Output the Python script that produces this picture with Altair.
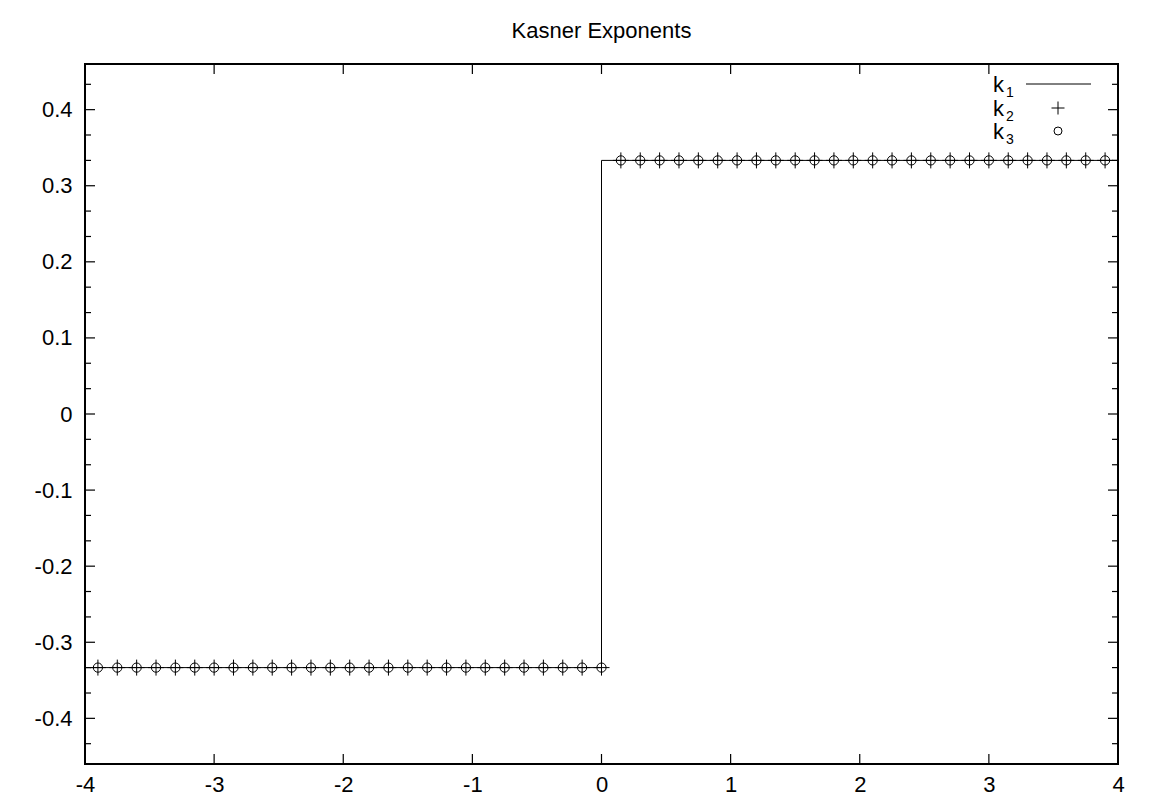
import altair as alt
import pandas as pd

# ---- data ----
x_vals = [-3.9, -3.75, -3.6, -3.45, -3.3, -3.15, -3.0, -2.85, -2.7, -2.55,
          -2.4, -2.25, -2.1, -1.95, -1.8, -1.65, -1.5, -1.35, -1.2, -1.05,
          -0.9, -0.75, -0.6, -0.45, -0.3, -0.15, 0.0,
          0.15, 0.3, 0.45, 0.6, 0.75, 0.9, 1.05, 1.2, 1.35, 1.5,
          1.65, 1.8, 1.95, 2.1, 2.25, 2.4, 2.55, 2.7, 2.85, 3.0,
          3.15, 3.3, 3.45, 3.6, 3.75, 3.9]
k2_vals = [-0.3333] * 27 + [0.3333] * 26
k3_vals = [-0.3333] * 27 + [0.3333] * 26

k1_x = [-4.0, 0.0, 0.0, 4.0]
k1_y = [-0.3333, -0.3333, 0.3333, 0.3333]

x_major = [-4, -3, -2, -1, 0, 1, 2, 3, 4]
y_major = [-0.4, -0.3, -0.2, -0.1, 0.0, 0.1, 0.2, 0.3, 0.4]
y_minor = [-0.4333, -0.3667, -0.3333, -0.2667, -0.2333, -0.1667, -0.1333,
           -0.0667, -0.0333, 0.0333, 0.0667, 0.1333, 0.1667, 0.2333,
           0.2667, 0.3333, 0.3667, 0.4333]

legend_names = ["k", "k", "k"]
legend_subs = ["1", "2", "3"]

title_text = "Kasner Exponents"

# ---- layout ----
W, H = 1033, 700
FONT = "Liberation Sans"
XD = [-4, 4]
YD = [-0.46, 0.46]

pts = pd.DataFrame({"x": x_vals, "k2": k2_vals, "k3": k3_vals})
line_df = pd.DataFrame({"x": k1_x, "y": k1_y, "o": list(range(len(k1_x)))})
xt = pd.DataFrame({"v": x_major})
yt = pd.DataFrame({"v": y_major})
ym = pd.DataFrame({"v": y_minor})

xs = alt.Scale(domain=XD, nice=False, zero=False)
ys = alt.Scale(domain=YD, nice=False, zero=False)

PLUS = "M-1,0H1M0,-1V1"

k1 = alt.Chart(line_df).mark_line(color="black", strokeWidth=1).encode(
    x=alt.X("x:Q", scale=xs,
            axis=alt.Axis(values=x_major, ticks=False, domain=False, grid=False,
                          labelExpr="toString(datum.value)", labelFont=FONT,
                          labelFontSize=22, labelColor="black", labelPadding=10,
                          labelFlush=False, labelOverlap=False),
            title=None),
    y=alt.Y("y:Q", scale=ys,
            axis=alt.Axis(values=y_major, ticks=False, domain=False, grid=False,
                          labelExpr="toString(round(datum.value*10)/10)",
                          labelFont=FONT, labelFontSize=22, labelColor="black",
                          labelPadding=13, labelFlush=False, labelOverlap=False),
            title=None),
    order="o:Q",
)

k2 = alt.Chart(pts).mark_point(shape=PLUS, size=256, stroke="black",
                               strokeWidth=1, filled=False, opacity=1).encode(
    x=alt.X("x:Q", scale=xs), y=alt.Y("k2:Q", scale=ys))

k3 = alt.Chart(pts).mark_point(shape="circle", size=85, stroke="black",
                               strokeWidth=1, filled=False, opacity=1).encode(
    x=alt.X("x:Q", scale=xs), y=alt.Y("k3:Q", scale=ys))

# inward ticks (gnuplot style), drawn from the tick lists
tb = alt.Chart(xt).mark_rule(color="black", strokeWidth=1.2).encode(
    x=alt.X("v:Q", scale=xs), y=alt.value(H), y2=alt.value(H - 10))
tt = alt.Chart(xt).mark_rule(color="black", strokeWidth=1.2).encode(
    x=alt.X("v:Q", scale=xs), y=alt.value(0), y2=alt.value(10))
tl = alt.Chart(yt).mark_rule(color="black", strokeWidth=1.2).encode(
    y=alt.Y("v:Q", scale=ys), x=alt.value(0), x2=alt.value(10))
tr = alt.Chart(yt).mark_rule(color="black", strokeWidth=1.2).encode(
    y=alt.Y("v:Q", scale=ys), x=alt.value(W), x2=alt.value(W - 10))
ml = alt.Chart(ym).mark_rule(color="black", strokeWidth=1.2).encode(
    y=alt.Y("v:Q", scale=ys), x=alt.value(0), x2=alt.value(6))
mr = alt.Chart(ym).mark_rule(color="black", strokeWidth=1.2).encode(
    y=alt.Y("v:Q", scale=ys), x=alt.value(W), x2=alt.value(W - 6))

one = pd.DataFrame({"a": [0]})

# plot frame
frame = alt.Chart(one).mark_rect(fill="transparent", stroke="black",
                                 strokeWidth=2).encode(
    x=alt.value(0), x2=alt.value(W), y=alt.value(0), y2=alt.value(H))

# manual legend (top right, inside the frame)
leg_layers = []
row_y = [28, 51.5, 75]
for i in range(3):
    d = pd.DataFrame({"name": [legend_names[i]], "sub": [legend_subs[i]]})
    leg_layers.append(alt.Chart(d).mark_text(
        font=FONT, fontSize=22, color="black", align="left",
        baseline="alphabetic").encode(
        text="name:N", x=alt.value(908), y=alt.value(row_y[i])))
    leg_layers.append(alt.Chart(d).mark_text(
        font=FONT, fontSize=14, color="black", align="left",
        baseline="alphabetic").encode(
        text="sub:N", x=alt.value(921), y=alt.value(row_y[i] + 5)))

leg_line = alt.Chart(one).mark_rule(color="black", strokeWidth=1).encode(
    x=alt.value(941), x2=alt.value(1006), y=alt.value(20))
leg_plus = alt.Chart(one).mark_point(shape=PLUS, size=169, stroke="black",
                                     strokeWidth=1, filled=False, opacity=1).encode(
    x=alt.value(973), y=alt.value(44))
leg_circ = alt.Chart(one).mark_point(shape="circle", size=64, stroke="black",
                                     strokeWidth=1, filled=False, opacity=1).encode(
    x=alt.value(973), y=alt.value(67))

chart = alt.layer(
    k1, k2, k3, tb, tt, tl, tr, ml, mr, frame, leg_line, leg_plus, leg_circ,
    *leg_layers
).properties(
    width=W, height=H,
    title=alt.TitleParams(title_text, font=FONT, fontSize=22, fontWeight="normal",
                          color="black", anchor="middle", offset=20),
    autosize=alt.AutoSizeParams(type="none"),
    padding={"left": 77, "top": 56, "right": 20, "bottom": 29},
).configure_view(
    strokeWidth=0
).configure(background="white")

chart.save("out.html", embed_options={"renderer": "svg", "actions": False})
